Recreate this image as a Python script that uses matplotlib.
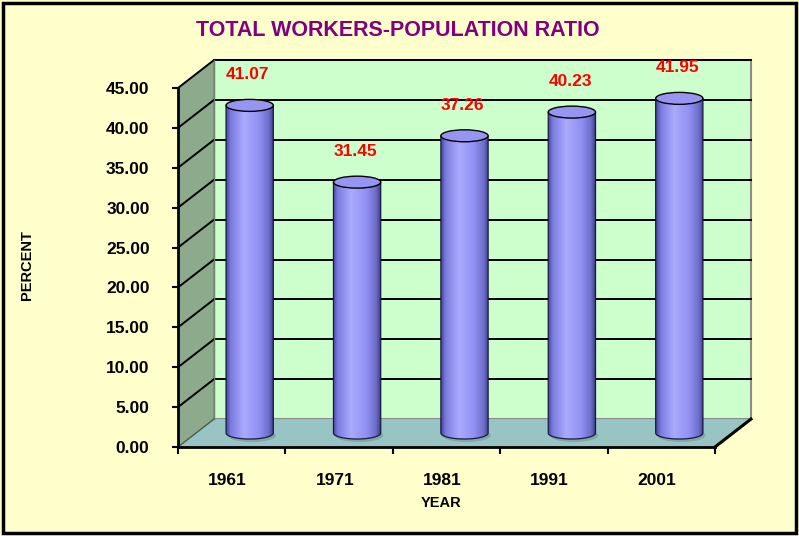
import numpy as np
import matplotlib.pyplot as plt
from matplotlib.patches import Polygon, Rectangle, Ellipse, PathPatch
from matplotlib.path import Path
from matplotlib.colors import LinearSegmentedColormap

# data
years = ['1961', '1971', '1981', '1991', '2001']
ratio = [41.07, 31.45, 37.26, 40.23, 41.95]
yticks = [0, 5, 10, 15, 20, 25, 30, 35, 40, 45]

plt.rcParams['font.family'] = ['Liberation Sans', 'DejaVu Sans']
plt.rcParams['font.weight'] = 'bold'

# depth of the fake 3d box, in data units (x = categories, y = percent)
dx, dy = 0.335, 3.5
ymax = 45
ncat = len(years)

fig = plt.figure(figsize=(7.99, 5.36), dpi=100, facecolor='#FFFFCC')
ax = fig.add_axes([178 / 799, 89 / 536, 537 / 799, 359 / 536])
ax.patch.set_visible(False)

# walls and floor
side = Polygon([(0, 0), (0, ymax), (dx, ymax + dy), (dx, dy)], closed=True,
               facecolor='#8DAA8D', edgecolor='none', zorder=0.5, clip_on=False)
back = Rectangle((dx, dy), ncat, ymax, facecolor='#CCFFCC', edgecolor='#8C8C8C',
                 lw=1.5, zorder=0.6, clip_on=False)
floor = Polygon([(0, 0), (ncat, 0), (ncat + dx, dy), (dx, dy)], closed=True,
                facecolor='#99C4C4', edgecolor='none', zorder=0.7, clip_on=False)
for p in (side, back, floor):
    ax.add_patch(p)

# gridlines on the back wall and the side wall
for v in yticks[1:]:
    ax.plot([dx, ncat + dx], [v + dy, v + dy], color='black', lw=1.4, zorder=0.8, clip_on=False)
    ax.plot([0, dx], [v, v + dy], color='black', lw=1.4, zorder=0.8, clip_on=False)
ax.plot([0, dx], [0, dy], color='#4A5A4A', lw=1.0, zorder=0.8, clip_on=False)
ax.plot([dx, dx], [dy, ymax + dy], color='#6E826E', lw=1.0, zorder=0.8, clip_on=False)
ax.plot([ncat, ncat + dx], [0, dy], color='black', lw=2.2, zorder=0.9, clip_on=False)

# cylinders
cmap = LinearSegmentedColormap.from_list('cyl', [
    (0.0, '#45459A'), (0.1, '#7C7CE0'), (0.38, '#AAAAFF'),
    (0.7, '#9090F2'), (0.9, '#6C6CCA'), (1.0, '#3A3A7E')])
grad = np.linspace(0, 1, 256).reshape(1, -1)
w = 0.44
eh = 1.5
for i, v in enumerate(ratio):
    cx = i + 0.5 + dx / 2
    y0 = dy / 2
    y1 = v + dy / 2
    t = np.linspace(np.pi, 2 * np.pi, 60)
    verts = list(zip(cx + w / 2 * np.cos(t), y0 + eh / 2 * np.sin(t)))
    verts += [(cx + w / 2, y1), (cx - w / 2, y1), (cx - w / 2, y0)]
    body = PathPatch(Path(verts, closed=False), facecolor='none', edgecolor='none')
    ax.add_patch(body)
    shadow = Ellipse((cx + 0.02, y0 - 0.3), w * 1.02, eh * 1.1, facecolor='#7FA8A8',
                     edgecolor='none', zorder=1.5)
    ax.add_patch(shadow)
    im = ax.imshow(grad, cmap=cmap, aspect='auto', extent=(cx - w / 2, cx + w / 2, y0 - eh / 2, y1),
                   zorder=2, interpolation='bilinear')
    im.set_clip_path(body)
    outline = PathPatch(Path(verts, closed=False), facecolor='none', edgecolor='#1A1A40',
                        lw=0.9, zorder=2.1)
    ax.add_patch(outline)
    ax.add_patch(Ellipse((cx, y1), w, eh, facecolor='#9696F2', edgecolor='black', lw=1.0, zorder=2.2))
    ax.text(i + 0.65, v + 5.6, f'{v:.2f}', color='#FF0000', fontsize=12.5,
            ha='center', va='center', zorder=3)

ax.set_xlim(0, ncat)
ax.set_ylim(0, ymax)

# axes
for s in ('top', 'right'):
    ax.spines[s].set_visible(False)
for s in ('left', 'bottom'):
    ax.spines[s].set_linewidth(2)
    ax.spines[s].set_zorder(1)
ax.set_yticks(yticks)
ax.set_yticklabels([f'{v:.2f}' for v in yticks])
ax.tick_params(axis='y', direction='out', length=4.5, width=1.5, pad=16, labelsize=12.5)
ax.set_xticks(range(ncat + 1))
ax.set_xticklabels([])
ax.set_xticks([i + 0.46 for i in range(ncat)], minor=True)
ax.set_xticklabels(years, minor=True)
ax.tick_params(axis='x', which='major', direction='out', length=5, width=1.5)
ax.tick_params(axis='x', which='minor', length=0, pad=19, labelsize=12.5)

fig.text(27 / 799, 1 - 265 / 536, 'PERCENT', rotation=90, ha='center', va='center', fontsize=10.5)
fig.text(441 / 799, 1 - 503 / 536, 'YEAR', ha='center', va='center', fontsize=10.5)
fig.text(398 / 799, 1 - 30 / 536, 'TOTAL WORKERS-POPULATION RATIO', color='#800080',
         ha='center', va='center', fontsize=15.5)

# chart border
fig.patches.append(Rectangle((3 / 799, 3 / 536), 793 / 799, 530 / 536, transform=fig.transFigure,
                             fill=False, edgecolor='black', lw=2.5))

plt.savefig('out.png', dpi=100, facecolor=fig.get_facecolor())
